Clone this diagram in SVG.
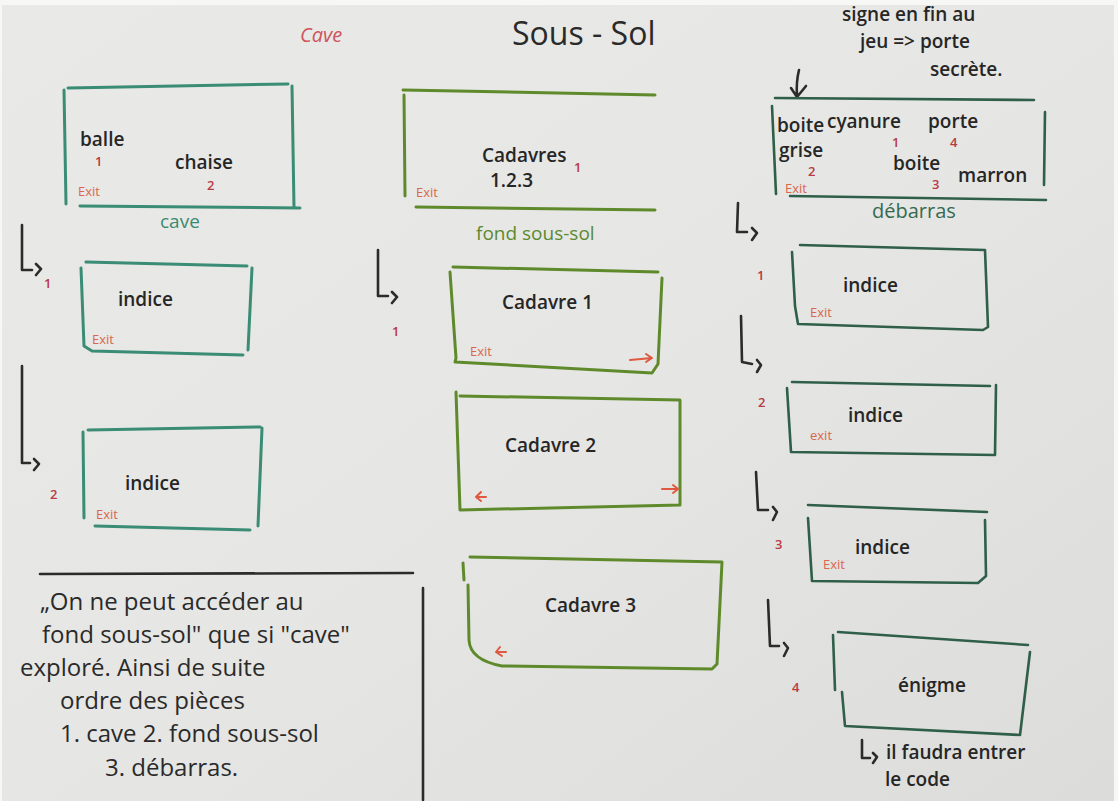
<svg xmlns="http://www.w3.org/2000/svg" width="1118" height="801" viewBox="0 0 1118 801">
  <defs>
    <linearGradient id="paper" x1="0" y1="0" x2="1" y2="1">
      <stop offset="0" stop-color="#e9e9e7"/>
      <stop offset="0.5" stop-color="#e6e6e4"/>
      <stop offset="1" stop-color="#dcdcda"/>
    </linearGradient>
  </defs>
  <style>
    text { font-family: "Open Sans", "Noto Sans", "Liberation Sans", sans-serif; }
    .ink { fill: #262626; font-size: 19px; font-weight: 600; }
    .big { fill: #2a2a2a; font-size: 32px; font-weight: 500; }
    .note { fill: #2a2a2a; font-size: 24px; font-weight: 500; }
    .num { fill: #b83a44; font-size: 13px; font-weight: 600; }
    .exit { fill: #d9674f; font-size: 13px; font-weight: 500; }
    .lbl-teal { fill: #3c8a72; font-size: 19px; }
    .lbl-olive { fill: #5b8a2f; font-size: 19px; }
    .lbl-dark { fill: #356a50; font-size: 20px; }
    .teal { fill: none; stroke: #3a8c74; stroke-width: 3; stroke-linecap: round; stroke-linejoin: round; }
    .olive { fill: none; stroke: #5e8a2c; stroke-width: 3; stroke-linecap: round; stroke-linejoin: round; }
    .dark { fill: none; stroke: #2f5f48; stroke-width: 2.6; stroke-linecap: round; stroke-linejoin: round; }
    .pen { fill: none; stroke: #2b2b2b; stroke-width: 2.6; stroke-linecap: round; stroke-linejoin: round; }
    .redpen { fill: none; stroke: #e0583f; stroke-width: 2; stroke-linecap: round; stroke-linejoin: round; }
  </style>

  <!-- sheet of paper -->
  <rect x="0" y="0" width="1118" height="801" fill="#f7f7f6"/>
  <rect x="2" y="5" width="1112" height="796" fill="url(#paper)"/>

  <!-- headings -->
  <g id="title">
    <text x="300" y="42" fill="#d0545c" font-size="20" font-style="italic">Cave</text>
    <text x="512" y="45" class="big">Sous - Sol</text>
  </g>
  <g id="note-secret">
    <text x="842" y="21" class="ink" font-size="20">signe en fin au</text>
    <text x="860" y="48" class="ink" font-size="20">jeu =&gt; porte</text>
    <text x="930" y="76" class="ink" font-size="20">secrète.</text>
    <path class="pen" d="M799 70 Q796 82 797 96 M791 88 L797 97 L806 86"/>
  </g>

  <!-- room: cave -->
  <g id="cave">
    <path class="teal" d="M68 88 L288 84 M64 90 L66 204 M292 86 L294 208 M80 206 L300 208"/>
    <text x="80" y="146" class="ink">balle</text>
    <text x="95" y="166" class="num">1</text>
    <text x="175" y="169" class="ink">chaise</text>
    <text x="207" y="190" class="num">2</text>
    <text x="78" y="196" class="exit">Exit</text>
    <text x="160" y="228" class="lbl-teal">cave</text>
  </g>

  <!-- room: fond sous-sol -->
  <g id="fond-sous-sol">
    <path class="olive" d="M403 90 L655 95 M404 95 L405 196 M416 207 L655 210"/>
    <text x="482" y="162" class="ink" font-size="18">Cadavres</text>
    <text x="490" y="187" class="ink" font-size="18">1.2.3</text>
    <text x="574" y="172" class="num" font-size="15">1</text>
    <text x="416" y="197" class="exit">Exit</text>
    <text x="476" y="240" class="lbl-olive">fond sous-sol</text>
  </g>

  <!-- room: débarras -->
  <g id="debarras">
    <path class="dark" d="M775 98 L1034 100 M772 106 L776 194 M1045 112 L1044 185 M790 196 L1046 200"/>
    <text x="777" y="132" class="ink" font-size="14">boite</text>
    <text x="779" y="157" class="ink" font-size="13">grise</text>
    <text x="808" y="176" class="num" font-size="11">2</text>
    <text x="785" y="193" class="exit" font-size="11">Exit</text>
    <text x="827" y="128" class="ink" font-size="17">cyanure</text>
    <text x="892" y="147" class="num" font-size="12">1</text>
    <text x="928" y="128" class="ink" font-size="17">porte</text>
    <text x="950" y="147" class="num" font-size="12">4</text>
    <text x="893" y="170" class="ink" font-size="17">boite</text>
    <text x="932" y="189" class="num" font-size="12">3</text>
    <text x="958" y="182" class="ink" font-size="15">marron</text>
    <text x="872" y="218" class="lbl-dark">débarras</text>
  </g>

  <!-- cave: clue rooms -->
  <g id="cave-indice-1">
    <path class="teal" d="M86 262 L247 266 M81 268 L84 346 L92 351 L243 355 M252 268 L248 350"/>
    <text x="118" y="306" class="ink">indice</text>
    <text x="92" y="344" class="exit" font-size="12">Exit</text>
  </g>
  <g id="cave-indice-2">
    <path class="teal" d="M88 430 L260 427 M83 432 L84 518 M262 428 L258 526 M95 526 L250 530"/>
    <text x="125" y="490" class="ink">indice</text>
    <text x="96" y="519" class="exit" font-size="12">Exit</text>
  </g>

  <!-- fond sous-sol: body rooms -->
  <g id="cadavre-1">
    <path class="olive" d="M453 267 L658 272 M450 272 L456 358 L455 362 L652 373 L658 364 L662 278"/>
    <text x="502" y="309" class="ink">Cadavre 1</text>
    <text x="470" y="356" class="exit">Exit</text>
    <path class="redpen" d="M630 360 L652 358 M646 354 L652 358 L646 362"/>
  </g>
  <g id="cadavre-2">
    <path class="olive" d="M456 392 L460 510 L680 505 M460 396 L680 400 L680 505"/>
    <text x="505" y="452" class="ink">Cadavre 2</text>
    <path class="redpen" d="M486 497 L476 497 M481 492 L476 497 L481 501"/>
    <path class="redpen" d="M662 489 L678 489 M673 485 L678 489 L673 493"/>
  </g>
  <g id="cadavre-3">
    <path class="olive" d="M470 557 L722 562 L717 664 L712 669 L502 666 Q470 660 469 640 L468 585 M464 580 L463 563"/>
    <text x="545" y="612" class="ink">Cadavre 3</text>
    <path class="redpen" d="M506 652 L496 652 M500 647 L496 652 L502 656"/>
  </g>

  <!-- débarras: clue rooms and puzzle -->
  <g id="debarras-indice-1">
    <path class="dark" d="M800 245 L985 250 L988 327 L983 330 L798 324 L795 306 L792 252"/>
    <text x="843" y="292" class="ink">indice</text>
    <text x="810" y="317" class="exit">Exit</text>
  </g>
  <g id="debarras-indice-2">
    <path class="dark" d="M792 382 L990 386 M787 388 L791 452 L995 455 L996 385"/>
    <text x="848" y="422" class="ink">indice</text>
    <text x="810" y="440" class="exit">exit</text>
  </g>
  <g id="debarras-indice-3">
    <path class="dark" d="M808 505 L987 512 M985 520 L986 576 L978 583 L812 581 L808 518"/>
    <text x="855" y="554" class="ink">indice</text>
    <text x="823" y="569" class="exit">Exit</text>
  </g>
  <g id="enigme">
    <path class="dark" d="M838 632 L1028 645 M833 635 L835 690 M1030 652 L1020 735 L845 726 L842 692"/>
    <text x="898" y="692" class="ink">énigme</text>
    <text x="886" y="759" class="ink">il faudra entrer</text>
    <text x="885" y="786" class="ink">le code</text>
  </g>

  <!-- note box -->
  <g id="note">
    <path class="pen" d="M40 574 L413 573 M423 588 L423 800" stroke-width="2.2"/>
    <text x="40" y="610" class="note">„On ne peut accéder au</text>
    <text x="42" y="643" class="note">fond sous-sol" que si "cave"</text>
    <text x="20" y="676" class="note">exploré. Ainsi de suite</text>
    <text x="60" y="709" class="note">ordre des pièces</text>
    <text x="60" y="742" class="note">1. cave  2. fond sous-sol</text>
    <text x="105" y="776" class="note">3. débarras.</text>
  </g>

  <!-- connectors: "L→" links with step numbers -->
  <g id="connectors">
    <path class="pen" d="M22 225 L22 270 L32 270 M36 264 L41 269 L36 275"/>
    <text x="44" y="288" class="num" font-size="17">1</text>
    <path class="pen" d="M22 366 L22 463 L30 463 M34 459 L39 464 L34 470"/>
    <text x="50" y="499" class="num" font-size="17">2</text>

    <path class="pen" d="M378 250 L378 296 L388 296 M392 292 L397 297 L392 303"/>
    <text x="392" y="336" class="num" font-size="15">1</text>

    <path class="pen" d="M738 203 L737 232 L747 232 M752 228 L757 233 L752 240"/>
    <text x="757" y="280" class="num" font-size="16">1</text>
    <path class="pen" d="M741 316 L742 362 L752 364 M757 360 L761 365 L757 372"/>
    <text x="758" y="407" class="num" font-size="14">2</text>
    <path class="pen" d="M756 472 L758 510 L768 510 M773 507 L777 512 L773 520"/>
    <text x="775" y="549" class="num" font-size="16">3</text>
    <path class="pen" d="M768 600 L770 646 L779 646 M784 643 L788 648 L784 656"/>
    <text x="792" y="692" class="num" font-size="16">4</text>
    <path class="pen" d="M862 740 L862 758 L870 758 M873 753 L877 757 L873 763"/>
  </g>
</svg>
